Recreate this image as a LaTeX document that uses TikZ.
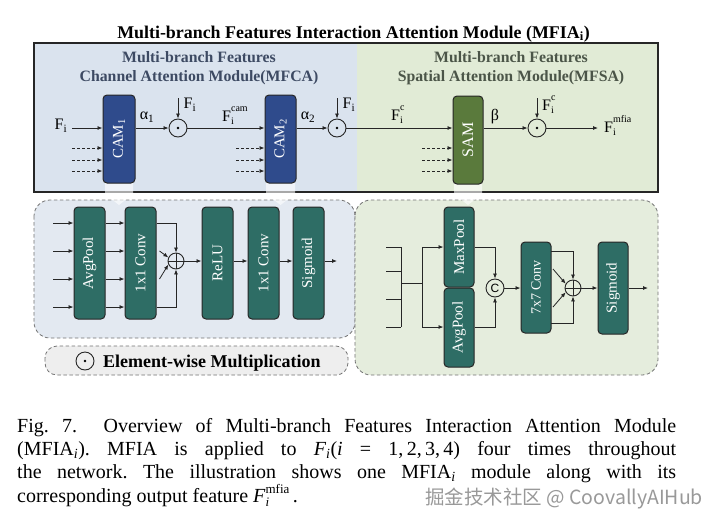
\documentclass[tikz,border=0pt]{standalone}
\usepackage{fontspec}
\setmainfont{Liberation Serif}
\newfontfamily\cjkfont{Noto Sans CJK SC}
\newfontfamily\sansC{Liberation Sans}
\usetikzlibrary{arrows.meta,calc}
\definecolor{topblue}{HTML}{DAE3EE}
\definecolor{topgreen}{HTML}{E1EBD6}
\definecolor{lowblue}{HTML}{E3E9F1}
\definecolor{lowgreen}{HTML}{E5EDDD}
\definecolor{camblue}{HTML}{2F4B8C}
\definecolor{samgreen}{HTML}{5A7A3C}
\definecolor{tealblk}{HTML}{2E6D65}
\definecolor{subblue}{HTML}{3D4A63}
\definecolor{subgreen}{HTML}{4B5548}
\definecolor{multgray}{HTML}{EEEEEE}
% #1 raise of sup, #2 size of scripts, #3 sup, #4 sub, #5 lower of sub
\newcommand{\mysupsub}[5]{\makebox[0pt][l]{\raisebox{#1}{\fontsize{#2}{#2}\selectfont #3}}\makebox[0pt][l]{\raisebox{-#5}{\fontsize{#2}{#2}\selectfont #4}}\hphantom{\fontsize{#2}{#2}\selectfont #3}}
\newcommand{\labss}[2]{\mysupsub{9.5pt}{10pt}{#1}{#2}{3pt}}
\frenchspacing
\begin{document}
\begin{tikzpicture}[x=1pt,y=-1pt,
  arr/.style={-{Latex[length=5pt,width=4pt]}, line width=0.8pt, draw=black!85},
  darr/.style={arr, dash pattern=on 3pt off 2pt},
  ln/.style={line width=0.8pt, draw=black!85},
  panel/.style={draw=black!55, line width=0.8pt, dash pattern=on 3.5pt off 2.5pt, rounded corners=16pt},
  bigblk/.style={draw=black!85, line width=1pt, rounded corners=4pt, inner sep=0pt, minimum width=31pt, minimum height=88pt},
  tblk/.style={draw=black!85, line width=1pt, fill=tealblk, rounded corners=4pt, inner sep=0pt, minimum width=31pt},
  btxt/.style={text=white, rotate=90, inner sep=0pt, font=\fontsize{15}{15}\selectfont},
  lbl/.style={inner sep=0pt, font=\fontsize{16}{16}\selectfont},
  odot/.style={circle, draw=black!85, line width=0.9pt, minimum size=18pt, inner sep=0pt,
    path picture={\fill (path picture bounding box.center) circle (1.4pt);}},
  oplus/.style={circle, draw=black!85, line width=0.9pt, minimum size=16pt, inner sep=0pt,
    path picture={\draw[line width=0.9pt] (path picture bounding box.north) -- (path picture bounding box.south)
      (path picture bounding box.west) -- (path picture bounding box.east);}},
  funnel/.style={fill=white, opacity=0.6},
  captxt/.style={anchor=base west, inner sep=0pt, font=\fontsize{20}{23}\selectfont}
]
\useasboundingbox[fill=white] (0,0) rectangle (720,523);

% lower panels
\draw[panel, fill=lowblue] (34,200) rectangle (355,338);
\draw[panel, fill=lowgreen] (355,200) rectangle (658,375);
\draw[panel, fill=multgray, rounded corners=12pt] (45,346) rectangle (348,375);

% top panel
\fill[topblue] (34,43) rectangle (357,192);
\fill[topgreen] (357,43) rectangle (658,192);
\draw[line width=1.2pt, draw=black!85] (34,43) rectangle (658,192);

% funnels
\fill[funnel] (105,182) -- (133,182) -- (133,194) -- (119,205) -- (105,194) -- cycle;
\fill[funnel] (266,182) -- (295,182) -- (295,194) -- (280.5,205) -- (266,194) -- cycle;
\fill[funnel] (454,182) -- (482,182) -- (482,194) -- (468,205) -- (454,194) -- cycle;

% title and subtitles
\node[anchor=base, inner sep=0pt, font=\bfseries\fontsize{17.9}{20}\selectfont] (title) at (353.5,38)
  {Multi-branch Features Interaction Attention Module (MFIA\textsubscript{i})};
\node[anchor=base, inner sep=0pt, text=subblue, font=\bfseries\fontsize{15.8}{18}\selectfont] (st1a) at (199,62) {Multi-branch Features};
\node[anchor=base, inner sep=0pt, text=subblue, font=\bfseries\fontsize{15.8}{18}\selectfont] (st1b) at (199,81) {Channel Attention Module(MFCA)};
\node[anchor=base, inner sep=0pt, text=subgreen, font=\bfseries\fontsize{15.8}{18}\selectfont] (st2a) at (511,62) {Multi-branch Features};
\node[anchor=base, inner sep=0pt, text=subgreen, font=\bfseries\fontsize{15.8}{18}\selectfont] (st2b) at (511,81) {Spatial Attention Module(MFSA)};

% top blocks
\node[bigblk, fill=camblue, minimum width=32pt] (cam1) at (119,139) {};
\node[btxt] (tcam1) at (cam1) {CAM\textsubscript{1}};
\node[bigblk, fill=camblue] (cam2) at (280.5,139) {};
\node[btxt] (tcam2) at (cam2) {CAM\textsubscript{2}};
\node[bigblk, fill=samgreen, minimum width=30pt] (sam) at (468,140) {};
\node[btxt, font=\fontsize{16}{16}\selectfont] (tsam) at (sam) {SAM};

\node[odot] (m1) at (178,128) {};
\node[odot] (m2) at (337,128) {};
\node[odot] (m3) at (537,128) {};

% top row connectors
\node[lbl] (lfi) at (61,126) {F\textsubscript{i}};
\coordinate (s0) at (72,128);
\draw[arr] (s0) -- (s0 -| cam1.west);
\foreach \yy/\n in {148/a,160/b,171/c}{
  \coordinate (da\n) at (72,\yy);
  \draw[darr] (da\n) -- (da\n -| cam1.west);
  \coordinate (db\n) at (236,\yy);
  \draw[darr] (db\n) -- (db\n -| cam2.west);
  \coordinate (dc\n) at (422,\yy);
  \draw[darr] (dc\n) -- (dc\n -| sam.west);
}
\draw[arr] (cam1.east |- m1) -- (m1.west);
\coordinate (t1) at (178,98);
\draw[arr] (t1) -- (m1.north);
\draw[arr] (m1.east) -- (m1.east -| cam2.west);
\draw[arr] (cam2.east |- m2) -- (m2.west);
\coordinate (t2) at (337,98);
\draw[arr] (t2) -- (m2.north);
\draw[arr] (m2.east) -- (m2.east -| sam.west);
\draw[arr] (sam.east |- m3) -- (m3.west);
\coordinate (t3) at (537,98);
\draw[arr] (t3) -- (m3.north);
\coordinate (out) at (598,128);
\draw[arr] (m3.east) -- (out);

\node[lbl] (la1) at (147,117) {α\textsubscript{1}};
\node[lbl] (lf1) at (190,105) {F\textsubscript{i}};
\node[lbl, anchor=base west] (lfcam) at (222,121) {F\labss{cam}{i}};
\node[lbl] (la2) at (308,117) {α\textsubscript{2}};
\node[lbl] (lf2) at (349,105) {F\textsubscript{i}};
\node[lbl, anchor=base west] (lfc) at (391,120) {F\labss{c}{i}};
\node[lbl] (lb) at (495,117) {β};
\node[lbl, anchor=base west] (lfc2) at (542,110) {F\labss{c}{i}};
\node[lbl, anchor=base west] (lfm) at (604,132) {F\labss{mfia}{i}};

% lower-left: channel attention
\node[tblk, minimum height=112pt] (ap1) at (89.5,263) {};
\node[btxt] (tap1) at (ap1) {AvgPool};
\node[tblk, minimum height=112pt] (cv1) at (140.5,263) {};
\node[btxt] (tcv1) at (cv1) {1x1 Conv};
\node[tblk, minimum height=112pt] (relu) at (217.5,263) {};
\node[btxt] (trelu) at (relu) {ReLU};
\node[tblk, minimum height=112pt] (cv2) at (263.5,263) {};
\node[btxt] (tcv2) at (cv2) {1x1 Conv};
\node[tblk, minimum height=112pt] (sg1) at (308.5,263) {};
\node[btxt] (tsg1) at (sg1) {Sigmoid};
\node[oplus] (p1) at (176,261) {};

\foreach \yy/\n in {223/a,251/b,279/c,307/d}{
  \coordinate (in\n) at (53,\yy);
  \draw[arr] (in\n) -- (in\n -| ap1.west);
  \draw[arr] (ap1.east |- in\n) -- (cv1.west |- in\n);
}
\draw[arr] (cv1.east |- ina) -| (p1.north);
\draw[arr] (cv1.east |- ind) -| (p1.south);
\draw[arr] ($(cv1.east |- inb)+(3,0)$) -- (p1.155);
\draw[arr] ($(cv1.east |- inc)+(3,0)$) -- (p1.205);
\draw[arr] (p1.east) -- (p1.east -| relu.west);
\draw[arr] (relu.east |- p1) -- (cv2.west |- p1);
\draw[arr] (cv2.east |- p1) -- (sg1.west |- p1);
\coordinate (o1) at (337,261);
\draw[arr] (sg1.east |- p1) -- (o1);

% element-wise legend
\node[odot] (legdot) at (85,361) {};
\node[anchor=base west, inner sep=0pt, font=\bfseries\fontsize{18}{18}\selectfont] (legtxt) at (103,367) {Element-wise Multiplication};

% lower-right: spatial attention
\node[tblk, minimum height=80pt, minimum width=30pt] (mp) at (459,247) {};
\node[btxt] (tmp) at (mp) {MaxPool};
\node[tblk, minimum height=79pt, minimum width=30pt] (ap2) at (459,327.5) {};
\node[btxt] (tap2) at (ap2) {AvgPool};
\node[circle, draw=black!85, line width=0.9pt, minimum size=18pt, inner sep=0pt, font=\sansC\fontsize{12}{12}\selectfont] (cc) at (495,288) {C};
\node[tblk, minimum height=91pt, minimum width=30pt] (cv7) at (536,287.5) {};
\node[btxt, font=\fontsize{14}{14}\selectfont] (tcv7) at (cv7) {7x7 Conv};
\node[oplus] (p2) at (573,288) {};
\node[tblk, minimum height=92pt, minimum width=30pt] (sg2) at (613,288) {};
\node[btxt] (tsg2) at (sg2) {Sigmoid};

\foreach \yy/\n in {247/a,271/b,299/c,327/d}{
  \coordinate (ja\n) at (386,\yy);
  \coordinate (jb\n) at (401,\yy);
  \draw[ln] (ja\n) -- (jb\n);
}
\draw[ln] (jba) -- (jbd);
\coordinate (jm1) at (401,283);
\coordinate (jm2) at (422,283);
\coordinate (jt) at (422,247);
\coordinate (jd) at (422,327);
\draw[ln] (jm1) -- (jm2);
\draw[ln] (jt) -- (jd);
\draw[arr] (jt) -- (jt -| mp.west);
\draw[arr] (jd) -- (jd -| ap2.west);
\draw[arr] (mp.east |- jt) -| (cc.north);
\draw[arr] (ap2.east |- jd) -| (cc.south);
\draw[arr] (cc.east) -- (cc.east -| cv7.west);
\coordinate (k1) at (551,251);
\coordinate (k4) at (551,323);
\draw[arr] (k1) -| (p2.north);
\draw[arr] (k4) -| (p2.south);
\coordinate (k2) at (553,269);
\coordinate (k3) at (553,307);
\draw[arr] (k2) -- (p2.150);
\draw[arr] (k3) -- (p2.210);
\draw[arr] (p2.east) -- (p2.east -| sg2.west);
\coordinate (o2) at (648,288);
\draw[arr] (sg2.east |- p2) -- (o2);

% caption
\node[captxt] (cap1) at (17,432) {\makebox[659pt][s]{Fig. 7.\ \ Overview of Multi-branch Features Interaction Attention Module}};
\node[captxt] (cap2) at (17,455.5) {\makebox[659pt][s]{(MFIA\textsubscript{\textit{i}}). MFIA is applied to \textit{F}\textsubscript{\textit{i}}(\textit{i} = 1,\,2,\,3,\,4) four times throughout}};
\node[captxt] (cap3) at (17,478.5) {\makebox[659pt][s]{the network. The illustration shows one MFIA\textsubscript{\textit{i}} module along with its}};
\node[captxt] (cap4) at (17,502) {corresponding output feature \textit{F}\mysupsub{9pt}{13pt}{mfia}{\textit{i}}{4.5pt}\,.};

% watermark
\node[anchor=base west, inner sep=0pt, text=black!40, font=\cjkfont\fontsize{19.5}{19.5}\selectfont] (wm) at (425,504) {掘金技术社区 @ CoovallyAIHub};
\end{tikzpicture}
\end{document}
